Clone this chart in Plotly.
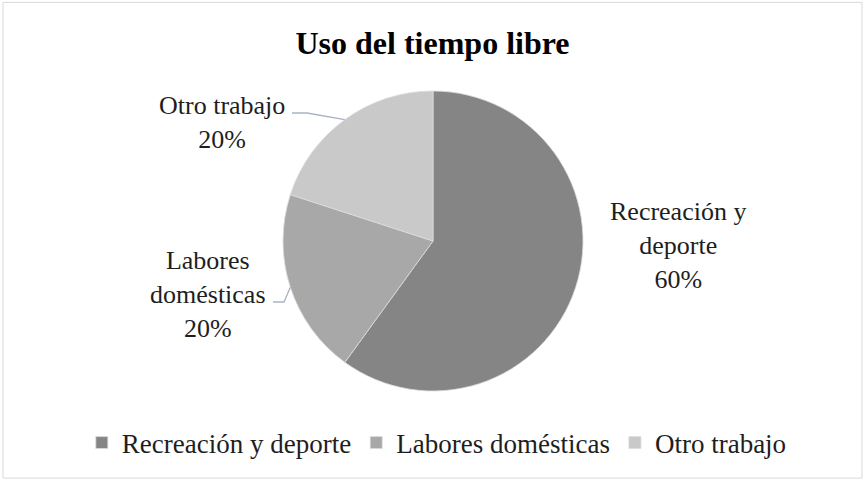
import math
import plotly.graph_objects as go

# datos del gráfico
categorias = ["Recreación y deporte", "Labores domésticas", "Otro trabajo"]
etiquetas_texto = ["Recreación y<br>deporte", "Labores<br>domésticas", "Otro trabajo"]
valores = [60, 20, 20]
colores = ["#858585", "#a8a8a8", "#c9c9c9"]

W, H = 865, 480
FONT = "Liberation Serif, Times New Roman, serif"
TXT = "#1e1e1e"

# geometría de la torta (pixeles)
CX, CY, R = 433, 241, 150

# centro de cada etiqueta y, si tiene, inicio y codo de la línea guía (pixeles)
pos_etiquetas = [(678, 246), (208, 294), (222, 122)]
guias = [None, [(273, 302), (284, 302)], [(292, 113), (307, 113)]]


def to_paper(x, y):
    return x / W, 1 - y / H


fig = go.Figure(go.Pie(
    labels=categorias,
    values=valores,
    sort=False,
    direction="clockwise",
    rotation=0,
    marker=dict(colors=colores, line=dict(color="#dcdcdc", width=0.8)),
    textinfo="none",
    hoverinfo="label+percent",
    domain=dict(x=[(CX - R) / W, (CX + R) / W], y=[1 - (CY + R) / H, 1 - (CY - R) / H]),
))

total = sum(valores)
acum = 0
annotations = []
shapes = [dict(type="rect", xref="paper", yref="paper", x0=0.0035, x1=0.9965,
               y0=0.004, y1=0.995, line=dict(color="#d9d9d9", width=1))]
for cat, txt, v, (lx, ly), guia in zip(categorias, etiquetas_texto, valores, pos_etiquetas, guias):
    medio = (acum + v / 2) / total * 2 * math.pi
    acum += v
    pct = round(v / total * 100)
    ax, ay = to_paper(lx, ly)
    annotations.append(dict(
        x=ax, y=ay, xref="paper", yref="paper", xanchor="center", yanchor="middle",
        text=f"{txt}<br>{pct}%", showarrow=False, align="center",
        font=dict(family=FONT, size=26, color=TXT),
    ))
    if guia:
        tip = (CX + R * math.sin(medio), CY - R * math.cos(medio))
        pts = [to_paper(*p) for p in guia + [tip]]
        path = "M " + " L ".join(f"{x:.5f},{y:.5f}" for x, y in pts)
        shapes.append(dict(type="path", xref="paper", yref="paper", path=path,
                           line=dict(color="#a7b4c6", width=1.3)))

fig.update_layout(
    width=W, height=H,
    margin=dict(l=0, r=0, t=0, b=0),
    paper_bgcolor="white",
    plot_bgcolor="white",
    font=dict(family=FONT, color=TXT),
    title=dict(text="<b>Uso del tiempo libre</b>", x=0.5, xanchor="center",
               y=0.91, yanchor="middle",
               font=dict(family=FONT, size=32, color="black")),
    legend=dict(orientation="h", x=0.505, xanchor="center", y=0.077, yanchor="middle",
                font=dict(family=FONT, size=27, color=TXT),
                itemwidth=30),
    annotations=annotations,
    shapes=shapes,
)

fig.write_html("out.html", config={"displayModeBar": False},
               post_script="document.body.style.margin='0';")
